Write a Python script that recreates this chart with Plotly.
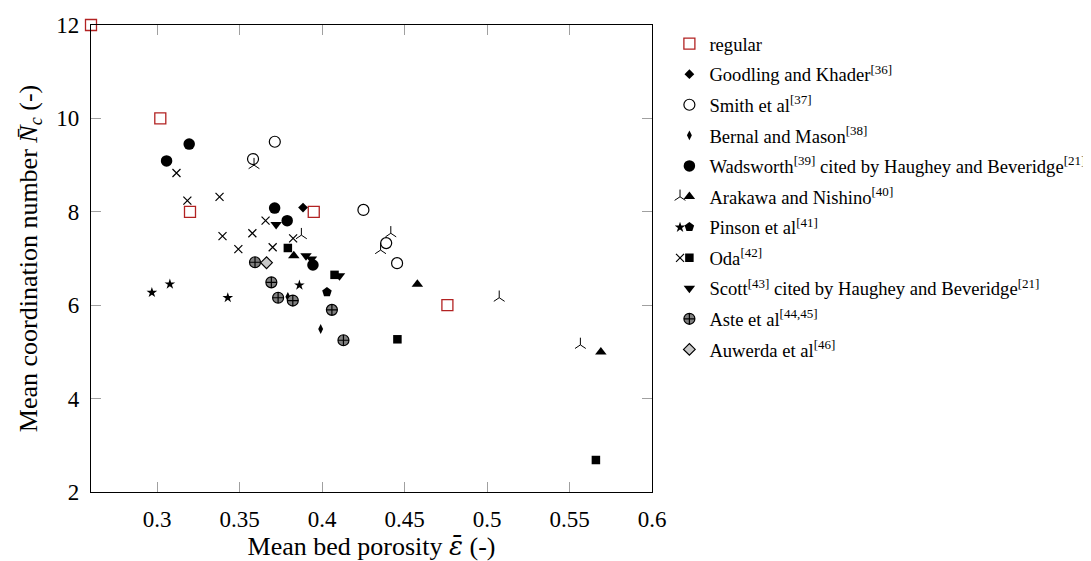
import plotly.graph_objects as go

# ---------------- data ----------------
regular_x = [0.26, 0.302, 0.32, 0.395, 0.476]
regular_y = [12, 10, 8, 8, 6]

goodling_x = [0.3885]
goodling_y = [8.09]

smith_x = [0.3714, 0.3582, 0.4251, 0.4389, 0.4455]
smith_y = [9.50, 9.13, 8.04, 7.33, 6.90]

bernal_x = [0.3793, 0.3992]
bernal_y = [6.18, 5.49]

wadsworth_x = [0.3058, 0.3195, 0.3713, 0.3789, 0.3945]
wadsworth_y = [9.09, 9.45, 8.08, 7.81, 6.86]

arakawa_tri_x = [0.3588, 0.3875, 0.4417, 0.4355, 0.5074, 0.5566]
arakawa_tri_y = [9.00, 7.50, 7.54, 7.18, 6.16, 5.15]
arakawa_x = [0.3829, 0.4578, 0.569]
arakawa_y = [7.06, 6.45, 5.00]

pinson_star_x = [0.2969, 0.3078, 0.3429, 0.3863]
pinson_star_y = [6.27, 6.45, 6.16, 6.43]
pinson_x = [0.403]
pinson_y = [6.28]

oda_x_x = [0.3118, 0.3184, 0.3379, 0.3658, 0.3397, 0.3578, 0.3493, 0.3701, 0.3825]
oda_x_y = [8.83, 8.24, 8.32, 7.81, 7.48, 7.54, 7.20, 7.24, 7.43]
oda_sq_x = [0.3793, 0.4076, 0.4457, 0.566]
oda_sq_y = [7.225, 6.65, 5.27, 2.685]

scott_x = [0.3722, 0.3903, 0.3936, 0.4106]
scott_y = [7.73, 7.06, 6.99, 6.63]

aste_x = [0.3594, 0.3693, 0.3734, 0.3823, 0.406, 0.413]
aste_y = [6.92, 6.49, 6.16, 6.10, 5.90, 5.25]

auwerda_x = [0.3664]
auwerda_y = [6.91]

x_ticks = [0.3, 0.35, 0.4, 0.45, 0.5, 0.55, 0.6]
x_ticklabels = ["0.3", "0.35", "0.4", "0.45", "0.5", "0.55", "0.6"]
y_ticks = [2, 4, 6, 8, 10, 12]

# ---------------- figure ----------------
FONT = "Liberation Serif, Times New Roman, serif"
BLACK = "#000000"

fig = go.Figure()

def add(x, y, name, symbol, size, color=BLACK, line_color=BLACK, line_w=0,
        legend="legend", group=None):
    fig.add_trace(go.Scatter(
        x=x, y=y, mode="markers", name=name,
        marker=dict(symbol=symbol, size=size, color=color,
                    line=dict(color=line_color, width=line_w)),
        cliponaxis=False, legend=legend, legendgroup=group or name,
    ))

add(regular_x, regular_y, "regular", "square", 11, color="white",
    line_color="#b22222", line_w=1.3, group="g1")
add(goodling_x, goodling_y, "Goodling and Khader<sup>[36]</sup>", "diamond", 7.5, group="g2")
add(smith_x, smith_y, "Smith et al<sup>[37]</sup>", "circle", 11, color="white",
    line_w=1.2, group="g3")
add(bernal_x, bernal_y, "Bernal and Mason<sup>[38]</sup>", "diamond-tall", 7, group="g4")
add(wadsworth_x, wadsworth_y,
    "Wadsworth<sup>[39]</sup> cited by Haughey and Beveridge<sup>[21]</sup>",
    "circle", 11.5, group="g5")
add(arakawa_x, arakawa_y, "Arakawa and Nishino<sup>[40]</sup>", "triangle-up", 10, group="g6")
add(pinson_x, pinson_y, "Pinson et al<sup>[41]</sup>", "pentagon", 10, group="g7")
add(oda_sq_x, oda_sq_y, "Oda<sup>[42]</sup>", "square", 8.5, group="g8")
add(scott_x, scott_y, "Scott<sup>[43]</sup> cited by Haughey and Beveridge<sup>[21]</sup>",
    "triangle-down", 10, group="g9")
add(aste_x, aste_y, "Aste et al<sup>[44,45]</sup>", "circle-cross", 11, color="#808080",
    line_w=1.2, group="g10")
add(auwerda_x, auwerda_y, "Auwerda et al<sup>[46]</sup>", "diamond", 9, color="#c8c8c8",
    line_w=1.2, group="g11")

# secondary symbols shown in a second legend column
add(arakawa_tri_x, arakawa_tri_y, " ", "y-up-open", 9, line_w=1, legend="legend2", group="h1")
add(pinson_star_x, pinson_star_y, " ", "star", 8, legend="legend2", group="h2")
add(oda_x_x, oda_x_y, " ", "x-thin-open", 8, line_w=1.2, legend="legend2", group="h3")

axis_common = dict(
    showline=True, linecolor=BLACK, linewidth=1.2, mirror="ticks",
    ticks="inside", ticklen=10, tickcolor="#a0a0a0", tickwidth=1,
    showgrid=False, zeroline=False,
    tickfont=dict(family=FONT, size=23, color=BLACK),
)

fig.update_xaxes(
    range=[0.26, 0.6], tickvals=x_ticks, ticktext=x_ticklabels,
    title=dict(text="Mean bed porosity <span style=\"font-family:'DejaVu Serif'\"><i>ε̄</i></span> (-)",
               font=dict(family=FONT, size=26, color=BLACK), standoff=7),
    ticklabelstandoff=6,
    **axis_common,
)
fig.update_yaxes(
    range=[2, 12], tickvals=y_ticks,
    title=dict(text="Mean coordination number <i>N̄</i><sub><i>c</i></sub> (-)",
               font=dict(family=FONT, size=26, color=BLACK), standoff=11),
    ticklabelstandoff=6,
    **axis_common,
)

# The page body has an 8px margin: the figure is shifted by (8, 8).
legend_font = dict(family=FONT, size=18.6, color=BLACK)
fig.update_layout(
    width=1083, height=553,
    margin=dict(l=83, r=439, t=17, b=69, autoexpand=False),
    paper_bgcolor="white", plot_bgcolor="white",
    font=dict(family=FONT, color=BLACK),
    legend=dict(x=1.031, y=1.0, xanchor="left", yanchor="top",
                font=legend_font, bgcolor="rgba(0,0,0,0)", borderwidth=0,
                tracegroupgap=3.4, traceorder="grouped", itemclick=False),
    legend2=dict(x=1.0143, y=0.672, xanchor="left", yanchor="top",
                 font=legend_font, bgcolor="rgba(0,0,0,0)", borderwidth=0,
                 tracegroupgap=3.4, traceorder="grouped", itemclick=False),
    showlegend=True,
)

fig.write_html("out.html")
